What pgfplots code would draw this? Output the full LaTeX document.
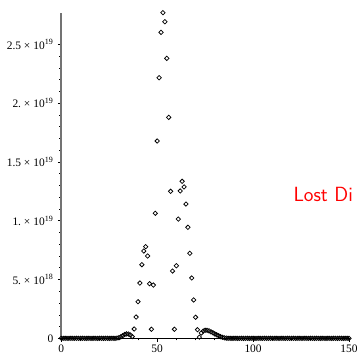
\documentclass[border=0pt]{standalone}
\usepackage{pgfplots}
\pgfplotsset{compat=1.18}
\usepackage{fontspec}
\setmainfont{Liberation Serif}
\begin{document}
\begin{tikzpicture}[x=1bp,y=1bp]
\begin{axis}[
  at={(61.3bp,17.7bp)}, anchor=south west,
  scale only axis, width=287.7bp, height=325.6bp,
  xmin=0, xmax=150, ymin=0, ymax=2.769e19,
  enlargelimits=false, clip=false,
  axis lines=left, axis line style={-},
  x axis line style={black, line width=0.6bp},
  y axis line style={draw=black!55, line width=1.6bp},
  tick align=outside, major tick length=3.5bp, minor tick length=2bp,
  every tick/.style={black, line width=0.5bp},
  xtick={0,50,100,150}, xticklabels={0,50,100,150},
  minor x tick num=4,
  ytick={0,5e18,1e19,1.5e19,2e19,2.5e19},
  yticklabels={0, 5.\ × 10\textsuperscript{18}, 1.\ × 10\textsuperscript{19}, 1.5 × 10\textsuperscript{19}, 2.\ × 10\textsuperscript{19}, 2.5 × 10\textsuperscript{19}},
  minor y tick num=4,
  scaled y ticks=false,
  ticklabel style={font=\fontsize{11.5}{13}\selectfont},
  yticklabel style={xshift=-1bp},
]
\addplot[only marks, mark=square, mark size=1.55bp, mark options={rotate=45, black, line width=0.75bp}] coordinates {
(0,0)(1,0)(2,0)(3,0)(4,0)(5,0)(6,0)(7,0)(8,0)(9,0)
(10,0)(11,0)(12,0)(13,0)(14,0)(15,0)(16,0)(17,0)(18,0)(19,0)
(20,0)(21,0)(22,0)(23,0)(24,0)(25,0)(26,0)(27,0)(28,0)
(29,2e16)(30,5e16)(31,1.2e17)(32,2.2e17)(33,3.2e17)(34,3.7e17)(35,3.6e17)(36,2.8e17)(37,1.5e17)
(38,7.9e17)(39,1.81e18)(40,3.11e18)(41,4.70e18)(42,6.26e18)(43,7.42e18)(44,7.79e18)(45,7.0e18)(46,4.64e18)(47,7.7e17)
(48,4.53e18)(49,1.063e19)(50,1.678e19)(51,2.216e19)(52,2.602e19)(53,2.769e19)(54,2.692e19)(55,2.381e19)(56,1.879e19)(57,1.25e19)
(58,5.72e18)(59,7.7e17)(60,6.17e18)(61,1.014e19)(62,1.253e19)(63,1.335e19)(64,1.287e19)(65,1.142e19)(66,9.44e18)(67,7.23e18)
(68,5.13e18)(69,3.26e18)(70,1.79e18)(71,7.3e17)(72,1.0e17)(73,4.5e17)(74,6.2e17)(75,6.8e17)(76,6.8e17)(77,6.3e17)
(78,5.5e17)(79,4.7e17)(80,3.8e17)(81,3.0e17)(82,2.2e17)(83,1.4e17)(84,8e16)(85,4e16)(86,2e16)
(87,0)(88,0)(89,0)(90,0)(91,0)(92,0)(93,0)(94,0)(95,0)(96,0)(97,0)(98,0)(99,0)
(100,0)(101,0)(102,0)(103,0)(104,0)(105,0)(106,0)(107,0)(108,0)(109,0)
(110,0)(111,0)(112,0)(113,0)(114,0)(115,0)(116,0)(117,0)(118,0)(119,0)
(120,0)(121,0)(122,0)(123,0)(124,0)(125,0)(126,0)(127,0)(128,0)(129,0)
(130,0)(131,0)(132,0)(133,0)(134,0)(135,0)(136,0)(137,0)(138,0)(139,0)
(140,0)(141,0)(142,0)(143,0)(144,0)(145,0)(146,0)(147,0)(148,0)(149,0)(150,0)
};
\end{axis}
\node[anchor=base west, inner sep=0pt, text=red, font=\sffamily\fontsize{20.6}{24}\selectfont] at (293.3bp,154.3bp) {Lost Di};
\pgfresetboundingbox
\path[use as bounding box] (0,0) rectangle (360bp,356bp);
\end{tikzpicture}
\end{document}
